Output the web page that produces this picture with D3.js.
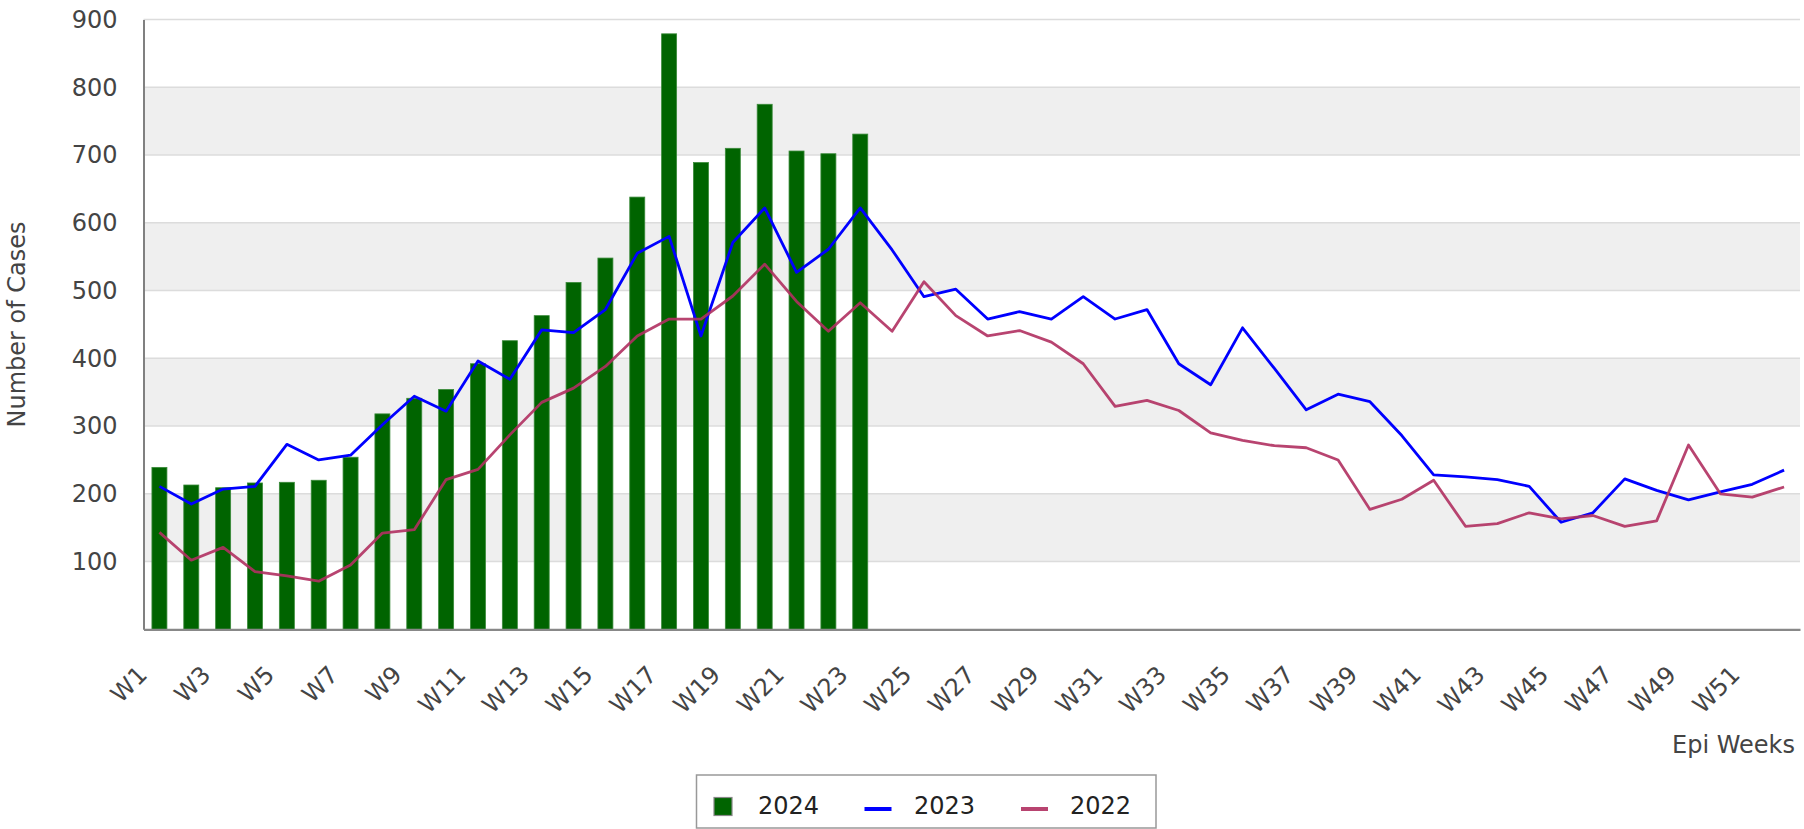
<!DOCTYPE html>
<html>
<head>
<meta charset="utf-8">
<script src="https://cdn.jsdelivr.net/npm/d3@7"></script>
<style>
  body { margin: 0; background: #fff; }
  svg text { font-family: "DejaVu Sans", sans-serif; }
</style>
</head>
<body>
<div id="resultDiv"></div>
<script>
// epi weeks W1..W52
const weeks = d3.range(1, 53).map((w) => "W" + w);
const weekLabels = weeks.filter((w, i) => i % 2 === 0);

const cases2024 = [239, 213, 209, 216, 217, 220, 254, 318, 341, 354, 392, 426,
  463, 512, 548, 638, 879, 689, 710, 775, 706, 702, 731];

const cases2023 = [211, 185, 207, 211, 273, 250, 257, 302, 344, 322, 396, 369,
  442, 438, 472, 555, 580, 433, 571, 622, 527, 561, 622, 560, 491, 502,
  458, 469, 458, 491, 458, 472, 392, 361, 445, 385, 324, 347, 336, 286,
  228, 225, 221, 211, 158, 172, 222, 205, 191, 203, 214, 235];

const cases2022 = [143, 102, 121, 85, 79, 71, 95, 142, 147, 221, 236, 287,
  335, 356, 388, 433, 458, 458, 492, 539, 484, 440, 482, 440, 513, 463,
  433, 441, 424, 392, 329, 338, 323, 290, 279, 271, 268, 250, 177, 192,
  220, 152, 156, 172, 163, 168, 152, 160, 272, 200, 195, 210];

const yTicks = [100, 200, 300, 400, 500, 600, 700, 800, 900];
const legendNames = ["2024", "2023", "2022"];

const margin = { top: 19.6, left: 143.5 };
const width = 1656.5;
const height = 609.7;

const x = d3.scaleBand().domain(weeks).range([0, width]);
const y = d3.scaleLinear().domain([0, 900]).range([height, 0]);
const cx = (i) => x(weeks[i]) + x.bandwidth() / 2;

const root = d3
  .select("#resultDiv")
  .append("svg")
  .attr("width", 1804)
  .attr("height", 829);

const svg = root
  .append("g")
  .attr("transform", "translate(" + margin.left + "," + margin.top + ")");

// alternating bands
svg
  .append("g")
  .selectAll("rect")
  .data(d3.range(0, 900, 100).filter((v) => (v / 100) % 2 === 1))
  .join("rect")
  .attr("x", 0)
  .attr("width", width)
  .attr("y", (d) => y(d + 100))
  .attr("height", (d) => y(d) - y(d + 100))
  .attr("fill", "#efefef");

svg
  .append("g")
  .selectAll("line")
  .data(yTicks)
  .join("line")
  .attr("x1", 0)
  .attr("x2", width)
  .attr("y1", (d) => y(d))
  .attr("y2", (d) => y(d))
  .attr("stroke", "#dcdcdc")
  .attr("stroke-width", 1.5);

// 2024 bars
svg
  .append("g")
  .selectAll("rect")
  .data(cases2024)
  .join("rect")
  .attr("x", (d, i) => cx(i) - 7.5)
  .attr("width", 15)
  .attr("y", (d) => y(d))
  .attr("height", (d) => y(0) - y(d))
  .attr("fill", "#006400")
  .attr("stroke", "#3a8a3a")
  .attr("stroke-width", 0.8);

const line = d3
  .line()
  .x((d, i) => cx(i))
  .y((d) => y(d));

svg
  .append("path")
  .datum(cases2023)
  .attr("fill", "none")
  .attr("stroke", "#0000ff")
  .attr("stroke-width", 2.8)
  .attr("stroke-linejoin", "round")
  .attr("d", line);

svg
  .append("path")
  .datum(cases2022)
  .attr("fill", "none")
  .attr("stroke", "#b03060")
  .attr("stroke-opacity", 0.9)
  .attr("stroke-width", 2.8)
  .attr("stroke-linejoin", "round")
  .attr("d", line);

// axes
const yAxis = svg
  .append("g")
  .call(d3.axisLeft(y).tickValues(yTicks).tickSize(0).tickPadding(26));
yAxis.select(".domain").attr("stroke", "#808080").attr("stroke-width", 2);
yAxis.selectAll("text").attr("font-size", 24).attr("fill", "#444").attr("font-family", null);

const xAxis = svg
  .append("g")
  .attr("transform", "translate(0," + height + ")")
  .call(d3.axisBottom(x).tickValues(weekLabels).tickSize(0));
xAxis.select(".domain").attr("stroke", "#888").attr("stroke-width", 2.2);
xAxis
  .selectAll("text")
  .attr("y", 0)
  .attr("dy", 0)
  .attr("transform", "translate(-11,47) rotate(-45)")
  .attr("text-anchor", "end")
  .attr("font-size", 24)
  .attr("fill", "#444")
  .attr("font-family", null);

root
  .append("text")
  .attr("transform", "translate(25," + (margin.top + height / 2) + ") rotate(-90)")
  .attr("text-anchor", "middle")
  .attr("font-size", 24)
  .attr("fill", "#444")
  .text("Number of Cases");

root
  .append("text")
  .attr("x", 1795)
  .attr("y", 753)
  .attr("text-anchor", "end")
  .attr("font-size", 24)
  .attr("fill", "#444")
  .text("Epi Weeks");

// legend
const legend = root.append("g");
legend
  .append("rect")
  .attr("x", 696.5)
  .attr("y", 775)
  .attr("width", 459.5)
  .attr("height", 53)
  .attr("fill", "#fff")
  .attr("stroke", "#999")
  .attr("stroke-width", 1.5);

legend
  .append("rect")
  .attr("x", 714)
  .attr("y", 797.5)
  .attr("width", 18)
  .attr("height", 18)
  .attr("fill", "#006400")
  .attr("stroke", "#888")
  .attr("stroke-width", 1.2);

legend
  .append("rect")
  .attr("x", 864.5)
  .attr("y", 807)
  .attr("width", 27)
  .attr("height", 4)
  .attr("fill", "#0000ff");

legend
  .append("rect")
  .attr("x", 1021)
  .attr("y", 807)
  .attr("width", 27)
  .attr("height", 4)
  .attr("fill", "#b03060")
  .attr("fill-opacity", 0.9);

legend
  .selectAll("text")
  .data(legendNames)
  .join("text")
  .attr("x", (d, i) => [758, 914, 1070][i])
  .attr("y", 814)
  .attr("font-size", 24)
  .attr("fill", "#222")
  .text((d) => d);
</script>
</body>
</html>
